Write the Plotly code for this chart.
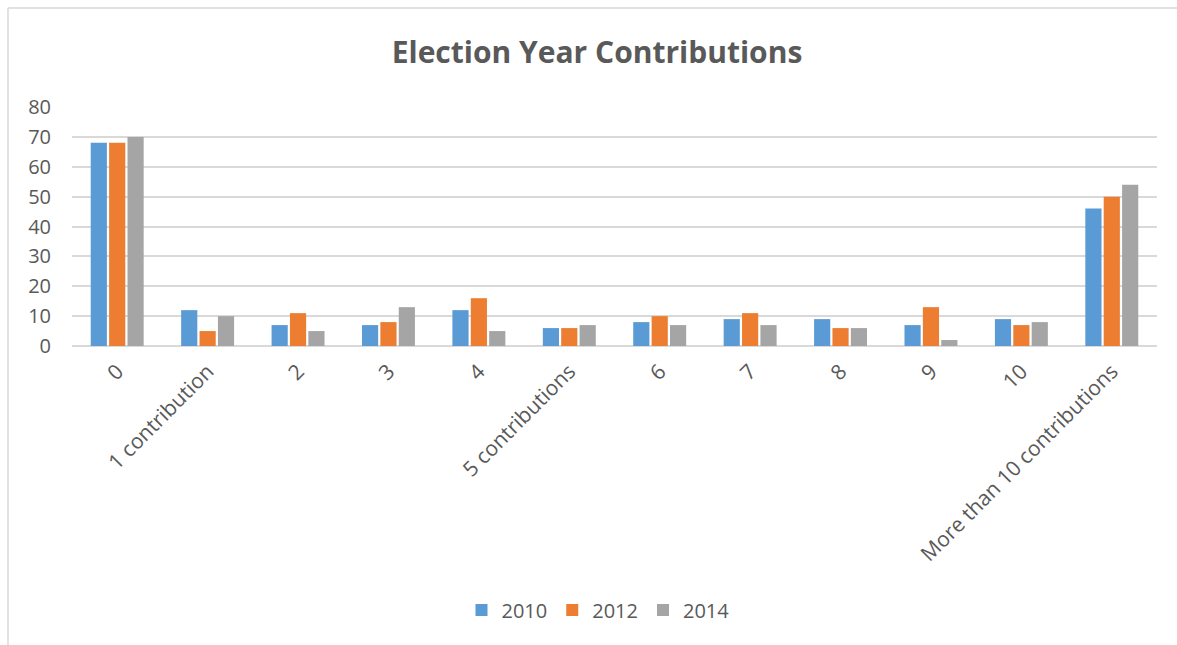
import plotly.graph_objects as go

categories = ["0", "1 contribution", "2", "3", "4", "5 contributions", "6", "7", "8", "9", "10",
              "More than 10 contributions"]
y2010 = [68, 12, 7, 7, 12, 6, 8, 9, 9, 7, 9, 46]
y2012 = [68, 5, 11, 8, 16, 6, 10, 11, 6, 13, 7, 50]
y2014 = [70, 10, 5, 13, 5, 7, 7, 7, 6, 2, 8, 54]
series_names = ["2010", "2012", "2014"]
colors = ["#5B9BD5", "#ED7D31", "#A5A5A5"]

W, H = 1177, 645
L, R, T, B = 72, 20, 107, 299
pw, ph = W - L - R, H - T - B

def px(x):
    return (x - L) / pw

def py(y):
    return (H - B - y) / ph

fig = go.Figure()
for name, vals, c in zip(series_names, [y2010, y2012, y2014], colors):
    fig.add_trace(go.Bar(x=categories, y=vals, name=name, marker_color=c,
                         marker_line_width=0))

fig.update_layout(
    width=W, height=H,
    margin=dict(l=L, r=R, t=T, b=B, autoexpand=False),
    paper_bgcolor="white", plot_bgcolor="white",
    barmode="group", bargap=0.39, bargroupgap=0.12,
    font=dict(family="Open Sans, sans-serif", color="#595959"),
    title=dict(text="<b>Election Year Contributions</b>", x=px(597), xref="paper",
               xanchor="center", y=1 - 52 / H, yanchor="middle",
               font=dict(size=30, color="#595959", family="Open Sans, sans-serif")),
    showlegend=True,
    legend=dict(orientation="h", x=px(598), xanchor="center", y=py(610), yanchor="middle",
                font=dict(size=20, color="#595959"), itemwidth=30, traceorder="normal"),
    xaxis=dict(tickangle=-45, tickfont=dict(size=21, color="#595959"), showgrid=False,
               showline=False, ticks="", ticklabelstandoff=8),
    yaxis=dict(range=[0, 80], dtick=10, tickfont=dict(size=20, color="#595959"),
               gridcolor="#D9D9D9", gridwidth=1.5, zeroline=True, zerolinecolor="#D9D9D9",
               zerolinewidth=1.5, showline=False, ticks="", ticklabelstandoff=20),
    shapes=[
        dict(type="line", xref="paper", yref="paper", x0=px(8), x1=px(8), y0=py(8), y1=py(645),
             line=dict(color="#D9D9D9", width=1.5)),
        dict(type="line", xref="paper", yref="paper", x0=px(8), x1=px(1177), y0=py(8), y1=py(8),
             line=dict(color="#D9D9D9", width=1.5)),
    ],
)

fig.write_html("out.html", config={"displayModeBar": False},
               post_script="document.body.style.margin='0';")
